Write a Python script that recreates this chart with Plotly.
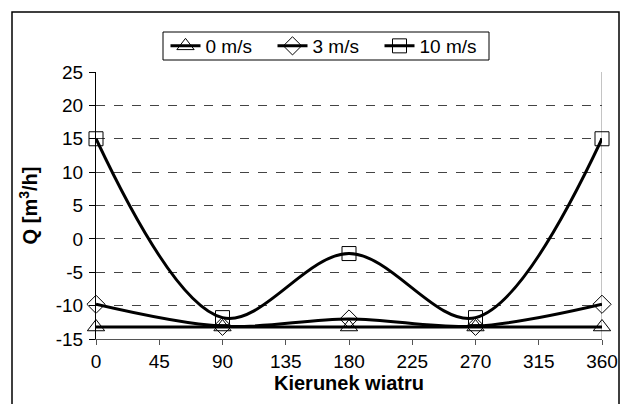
import plotly.graph_objects as go

directions = [0, 90, 180, 270, 360]
q_0ms = [-13.2, -13.2, -13.2, -13.2, -13.2]
q_3ms = [-9.8, -13.1, -12.0, -13.1, -9.8]
q_10ms = [15.0, -11.8, -2.2, -11.8, 15.0]
series_names = ["0 m/s", "3 m/s", "10 m/s"]
x_ticks = [0, 45, 90, 135, 180, 225, 270, 315, 360]
y_ticks = [-15, -10, -5, 0, 5, 10, 15, 20, 25]

FONT = "Arial, Liberation Sans, sans-serif"
symbols = ["triangle-up-open", "diamond-open", "square-open"]
sizes = [15, 14, 14]

fig = go.Figure()
for name, ys, sym, sz in zip(series_names, [q_0ms, q_3ms, q_10ms], symbols, sizes):
    fig.add_trace(go.Scatter(
        x=directions, y=ys, name=name, mode="lines+markers",
        line=dict(color="black", width=3, shape="spline", smoothing=1),
        marker=dict(symbol=sym, size=sz, color="black", line=dict(color="black", width=1)),
        cliponaxis=False,
    ))

L, R, T, B = 96, 18, 72, 65
W, H = 620, 404
pw, ph = W - L - R, H - T - B

def px(xp):
    return (xp - L) / pw

def py(yp):
    return (H - B - yp) / ph

fig.update_layout(
    width=W, height=H,
    margin=dict(l=L, r=R, t=T, b=B, autoexpand=False),
    paper_bgcolor="white", plot_bgcolor="white",
    font=dict(family=FONT, size=19, color="black"),
    showlegend=True,
    legend=dict(
        orientation="h", x=px(326), xanchor="center", y=py(46), yanchor="middle",
        borderwidth=0, bgcolor="rgba(0,0,0,0)",
        font=dict(size=19), itemwidth=30, tracegroupgap=0,
        entrywidth=62, entrywidthmode="pixels",
    ),
    xaxis=dict(
        range=[0, 360], tickvals=x_ticks, ticktext=[str(v) for v in x_ticks],
        showgrid=False, zeroline=False, automargin=False,
        showline=True, linecolor="#555", linewidth=1,
        ticks="outside", ticklen=5, tickcolor="#555",
        title=dict(text="<b>Kierunek wiatru</b>", font=dict(size=20), standoff=4),
    ),
    yaxis=dict(
        range=[-15, 25], tickvals=y_ticks, ticktext=[str(v) for v in y_ticks],
        showgrid=True, gridcolor="#444", griddash="dash", gridwidth=1,
        zeroline=False, automargin=False,
        showline=True, linecolor="black", linewidth=1,
        ticks="outside", ticklen=6, tickcolor="black",
        ticklabelstandoff=2,
        title=dict(text="<b>Q [m<sup>3</sup>/h]</b>", font=dict(size=20), standoff=12),
    ),
)

# right plot-area border
fig.add_shape(type="line", xref="x", yref="y", x0=360, x1=360, y0=-15, y1=25,
              line=dict(color="#888", width=1), layer="below")
# outer chart frame
fig.add_shape(type="rect", xref="paper", yref="paper",
              x0=px(12), x1=px(619), y0=py(420), y1=py(12),
              line=dict(color="black", width=1.5), layer="below")
# legend frame
fig.add_shape(type="rect", xref="paper", yref="paper",
              x0=px(163), x1=px(489), y0=py(60), y1=py(32),
              line=dict(color="black", width=1), fillcolor="white", layer="below")

fig.write_html("out.html")
